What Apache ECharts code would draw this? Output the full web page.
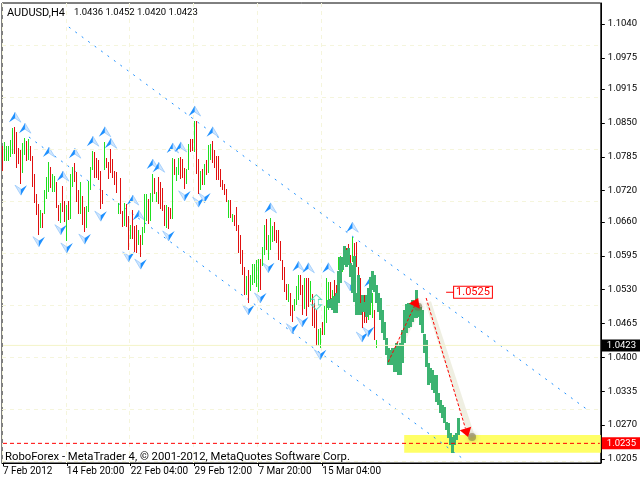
<!DOCTYPE html>
<html><head><meta charset="utf-8">
<style>html,body{margin:0;padding:0;background:#fff}#c{width:640px;height:480px}</style>
<script src="https://cdn.jsdelivr.net/npm/echarts@6/dist/echarts.min.js"></script>
</head><body><div id="c"></div>
<script>
const FONT = 'Roboto,sans-serif';
const titleName = 'AUDUSD,H4';
const titleOHLC = '1.0436 1.0452 1.0420 1.0423';
const footerText = 'RoboForex - MetaTrader 4, © 2001-2012, MetaQuotes Software Corp.';
const tickIndex = [0,32,64,96,128,160];
const tickLabels = ['7 Feb 2012','14 Feb 20:00','22 Feb 04:00','29 Feb 12:00','7 Mar 20:00','15 Mar 04:00'];
const barCount = 300;
const priceTicks = [1.1040,1.0975,1.0915,1.0850,1.0785,1.0720,1.0660,1.0595,1.0530,1.0465,1.0400,1.0335,1.0270,1.0205];
const priceMin = 1.01973, priceMax = 1.10802;
const lastPrice = 1.0423, targetPrice = 1.0235, peakPrice = 1.0525;

const highs = [1.0806,1.0813,1.0806,1.0806,1.0817,1.0840,1.0842,1.0832,1.0801,1.0799,1.0811,1.0821,1.0815,1.0819,1.0806,1.0786,1.0752,1.0713,1.0694,1.0683,1.0677,1.0721,1.0746,1.0775,1.0765,1.0752,1.0748,1.0736,1.0692,1.0696,1.0729,1.0700,1.0692,1.0700,1.0752,1.0765,1.0773,1.0756,1.0721,1.0736,1.0710,1.0688,1.0690,1.0738,1.0765,1.0796,1.0794,1.0782,1.0779,1.0757,1.0721,1.0813,1.0782,1.0775,1.0800,1.0781,1.0757,1.0756,1.0696,1.0744,1.0681,1.0696,1.0694,1.0671,1.0654,1.0683,1.0652,1.0654,1.0644,1.0635,1.0650,1.0713,1.0713,1.0704,1.0715,1.0752,1.0744,1.0717,1.0746,1.0736,1.0725,1.0692,1.0692,1.0688,1.0686,1.0782,1.0781,1.0765,1.0782,1.0784,1.0781,1.0763,1.0761,1.0809,1.0819,1.0819,1.0853,1.0853,1.0781,1.0757,1.0761,1.0771,1.0779,1.0807,
1.0810,1.0815,1.0798,1.0787,1.0787,1.0762,1.0740,1.0733,1.0724,1.0702,1.0702,1.0675,1.0673,1.0689,1.0654,1.0635,1.0606,1.0573,1.0556,1.0568,1.0558,1.0580,1.0580,1.0587,1.0589,1.0588,1.0612,1.0654,1.0665,1.0635,1.0667,1.0652,1.0660,1.0644,1.0644,1.0623,1.0587,1.0574,1.0541,1.0541,1.0523,1.0500,1.0513,1.0537,1.0558,1.0558,1.0539,1.0553,1.0553,1.0553,1.0547,1.0521,1.0504,1.0491,1.0454,1.0456,1.0467,1.0499,1.0552,1.0545,1.0545,1.0529,1.0549,1.0539,1.0593,1.0595,1.0587,1.0606,1.0610,1.0618,1.0597,1.0631,1.0620,1.0622,1.0574,1.0552,1.0510,1.0520,1.0510,1.0520,1.0520,1.0524,1.0491,1.0433];
const lows = [1.0758,1.0777,1.0777,1.0777,1.0785,1.0791,1.0791,1.0763,1.0771,1.0734,1.0754,1.0788,1.0777,1.0779,1.0777,1.0727,1.0696,1.0673,1.0635,1.0648,1.0648,1.0675,1.0704,1.0717,1.0725,1.0717,1.0717,1.0686,1.0661,1.0658,1.0679,1.0660,1.0623,1.0663,1.0665,1.0727,1.0736,1.0698,1.0675,1.0675,1.0654,1.0640,1.0648,1.0679,1.0721,1.0759,1.0744,1.0744,1.0740,1.0685,1.0694,1.0759,1.0763,1.0742,1.0754,1.0745,1.0731,1.0715,1.0675,1.0675,1.0650,1.0652,1.0650,1.0606,1.0627,1.0627,1.0602,1.0600,1.0615,1.0592,1.0615,1.0638,1.0661,1.0656,1.0661,1.0698,1.0713,1.0698,1.0694,1.0685,1.0681,1.0652,1.0648,1.0646,1.0665,1.0665,1.0750,1.0738,1.0750,1.0742,1.0744,1.0723,1.0732,1.0759,1.0794,1.0796,1.0794,1.0752,1.0713,1.0721,1.0731,1.0731,1.0750,1.0753,
1.0779,1.0772,1.0763,1.0740,1.0740,1.0728,1.0721,1.0712,1.0699,1.0667,1.0667,1.0659,1.0651,1.0642,1.0600,1.0580,1.0558,1.0520,1.0520,1.0504,1.0527,1.0539,1.0544,1.0536,1.0526,1.0529,1.0576,1.0596,1.0606,1.0587,1.0606,1.0622,1.0624,1.0619,1.0587,1.0584,1.0548,1.0526,1.0510,1.0507,1.0479,1.0468,1.0490,1.0500,1.0510,1.0520,1.0481,1.0494,1.0481,1.0497,1.0507,1.0459,1.0456,1.0422,1.0422,1.0417,1.0443,1.0443,1.0466,1.0491,1.0497,1.0501,1.0516,1.0510,1.0568,1.0558,1.0564,1.0577,1.0583,1.0577,1.0568,1.0583,1.0577,1.0574,1.0552,1.0504,1.0457,1.0466,1.0466,1.0472,1.0481,1.0476,1.0433,1.0418];
const rising = [0,1,1,1,1,1,0,0,0,0,1,1,0,1,0,0,0,0,0,1,0,1,1,1,0,1,1,0,0,1,0,0,1,0,1,1,0,0,0,1,0,0,1,1,1,1,0,0,0,0,0,1,0,0,0,0,0,0,1,0,0,1,0,0,1,0,0,0,1,0,1,1,1,0,1,1,0,1,0,0,0,0,1,0,0,1,0,1,1,0,0,0,1,1,0,0,1,0,0,1,0,1,0,1,
1,0,0,0,0,0,0,0,0,1,0,1,0,0,0,0,0,0,1,0,1,1,1,1,1,0,1,1,0,1,1,1,0,0,0,0,0,0,0,1,0,0,1,1,1,0,0,1,0,0,1,0,0,0,1,1,0,1,1,1,0,1,0,0,1,1,1,1,0,0,0,1,0,0,0,0,0,0,0,1,1,1,0,1,0,0];

const forecastStart = 163;
const forecastHighs = [1.0510,1.0512,1.0514,1.0518,1.0524,1.0566,1.0593,1.0593,1.0614,1.0606,1.0610,1.0581,1.0577,1.0595,1.0524,1.0558,1.0504,1.0520,1.0506,1.0520,1.0533,1.0554,1.0566,1.0558,1.0539,1.0524,1.0514,1.0491,1.0468,1.0437,1.0418,1.0414,1.0418,1.0418,1.0428,1.0424,1.0428,1.0453,1.0491,1.0503,1.0504,1.0504,1.0510,1.0506,1.0529,1.0501,1.0497,1.0491,1.0445,1.0433,1.0389,1.0380,1.0376,1.0366,1.0366,1.0332,1.0318,1.0309,1.0305,1.0276,1.0274,1.0255,1.0247,1.0251,1.0255,1.0284];
const forecastLows = [1.0495,1.0495,1.0491,1.0485,1.0485,1.0504,1.0543,1.0568,1.0577,1.0574,1.0577,1.0554,1.0524,1.0506,1.0481,1.0481,1.0481,1.0487,1.0487,1.0478,1.0481,1.0504,1.0529,1.0526,1.0504,1.0487,1.0472,1.0447,1.0433,1.0405,1.0385,1.0385,1.0385,1.0372,1.0372,1.0366,1.0366,1.0389,1.0428,1.0447,1.0456,1.0458,1.0468,1.0476,1.0476,1.0478,1.0462,1.0447,1.0409,1.0382,1.0347,1.0351,1.0338,1.0332,1.0315,1.0309,1.0293,1.0284,1.0274,1.0261,1.0245,1.0232,1.0217,1.0232,1.0242,1.0251];

const fractalUp = [[6,1.0861],[11,1.0840],[23,1.0794],[36,1.0792],[30,1.0748],[45,1.0815],[51,1.0833],[54,1.0811],[65,1.0702],[68,1.0673],[75,1.0771],[78,1.0765],[85,1.0802],[89,1.0804],[96,1.0873],[105,1.0833],[134,1.0687],[148,1.0575],[153,1.0572],[163,1.0572],[175,1.0650],[184,1.0545]];
const fractalDown = [[9,1.0721],[18,1.0622],[29,1.0645],[32,1.0610],[41,1.0627],[49,1.0671],[63,1.0593],[69,1.0579],[83,1.0633],[91,1.0710],[98,1.0698],[101,1.0706],[123,1.0491],[129,1.0514],[133,1.0572],[145,1.0455],[150,1.0468],[159,1.0405],[174,1.0537],[180,1.0439],[183,1.0449]];
const channelUpper = [[33,1.1034],[293,1.0299]];
const channelLower = [[13,1.0823],[232,1.0201]];
const arrows = [[193,1.0391,208,1.0514],[212,1.0514,233,1.0247]];
const arrowUpShadow = [[196,1.0405],[209,1.0501]];
const arrowDownShadow = [[213,1.0506],[235,1.0247]];
const shadowTips = [[208,1.0497],[235,1.0247]];
const zone = [[201,299,1.0251,1.0217]];
const peakLeader = [[222,peakPrice],[226,peakPrice]];
const markerPoint = [[157,1.0506]];
const fullRange = [0,barCount-1];

const categories = Array.from({length:barCount},(_,i)=>String(i));
tickIndex.forEach((k,i)=>{categories[k]=tickLabels[i];});
const thinData = highs.map((h,i)=>[i,h,lows[i],rising[i]]);
const thickData = forecastHighs.map((h,i)=>[forecastStart+i,h,forecastLows[i]]);

function barRender(width,colorOf){
  return function(params,api){
    const x=api.value(0);
    const a=api.coord([x,api.value(1)]), b=api.coord([x,api.value(2)]);
    return {type:'rect',shape:{x:Math.round(a[0]-width/2),y:Math.round(a[1]),width:width,height:Math.max(1,Math.round(b[1]-a[1]))},
      style:{fill:colorOf(api)}};
  };
}
function fractalRender(dir){
  return function(params,api){
    const c=api.coord([api.value(0),api.value(1)]);
    const P=(x,y)=>[c[0]+x*dir,c[1]+y*dir];
    return {type:'group',children:[
      {type:'polygon',shape:{points:[P(0,-5),P(6,5),P(0,1)]},style:{fill:'#cfe6ff',stroke:'#8fc4fb',lineWidth:0.7}},
      {type:'polygon',shape:{points:[P(0,-5),P(-6,5),P(0,1)]},style:{fill:'#1e90ff'}}
    ]};
  };
}
function zoneRender(params,api){
  const a=api.coord([api.value(0),api.value(2)]), b=api.coord([api.value(1),api.value(3)]);
  return {type:'rect',shape:{x:a[0],y:a[1],width:b[0]-a[0]+1,height:b[1]-a[1]},style:{fill:'#ffff66'}};
}
function arrowRender(params,api){
  const a=api.coord([api.value(0),api.value(1)]), b=api.coord([api.value(2),api.value(3)]);
  const dx=b[0]-a[0], dy=b[1]-a[1], L=Math.sqrt(dx*dx+dy*dy), ux=dx/L, uy=dy/L, H=9, W=6;
  const bx=b[0]-ux*H, by=b[1]-uy*H;
  return {type:'group',children:[
    {type:'line',shape:{x1:a[0],y1:a[1],x2:bx,y2:by},style:{stroke:'#ff0000',lineWidth:1,lineDash:[3,2]}},
    {type:'polygon',shape:{points:[b,[bx-uy*W,by+ux*W],[bx+uy*W,by-ux*W]]},style:{fill:'#ff0000'}}
  ]};
}
const plainLine=(name,data,color,width,type,z)=>({name,type:'line',data,symbol:'none',silent:true,z,
  lineStyle:{color,width,type},itemStyle:{color}});
const levelLine=(name,price,color,type,bg)=>({name,type:'line',data:fullRange.map(k=>[k,price]),symbol:'none',silent:true,z:8,
  lineStyle:{color,width:1,type},
  endLabel:{show:true,distance:2,formatter:price.toFixed(4),color:'#fff',backgroundColor:bg,fontFamily:FONT,fontSize:9.5,padding:[1,5,1,5],lineHeight:10}});

const chart=echarts.init(document.getElementById('c'),null,{renderer:'canvas'});
chart.setOption({
  animation:false,
  backgroundColor:'#fff',
  textStyle:{fontFamily:FONT},
  title:[
    {text:'{a|'+titleName+'}  {b|'+titleOHLC+'}',left:7,top:4,padding:0,
      textStyle:{fontWeight:'normal',rich:{a:{fontFamily:FONT,fontSize:11,fontWeight:'normal',color:'#000'},b:{fontFamily:FONT,fontSize:9.5,fontWeight:'normal',color:'#000'}}}},
    {text:footerText,left:5,top:450,padding:0,z:20,textStyle:{fontFamily:FONT,fontSize:11.3,fontWeight:'normal',color:'#000',lineHeight:14}}
  ],
  grid:{left:2,right:38,top:3,bottom:17,show:true,borderColor:'#000',borderWidth:1,backgroundColor:'#fff'},
  xAxis:{type:'category',data:categories,boundaryGap:true,
    axisLine:{lineStyle:{color:'#000'}},
    axisTick:{show:true,alignWithLabel:true,length:3,lineStyle:{color:'#000'},customValues:tickIndex},
    axisLabel:{show:true,customValues:tickIndex,align:'left',margin:3,fontFamily:FONT,fontSize:10,color:'#000'},
    splitLine:{show:true,interval:(i)=>i%16===1,lineStyle:{color:'#f5f5dc',type:[4,4],width:1}}},
  yAxis:{type:'value',position:'right',min:priceMin,max:priceMax,scale:true,
    axisLine:{show:true,lineStyle:{color:'#000'}},
    axisTick:{show:true,length:4,lineStyle:{color:'#000'},customValues:priceTicks},
    axisLabel:{show:true,margin:7,fontFamily:FONT,fontSize:9.5,color:'#000',customValues:priceTicks,formatter:v=>v.toFixed(4)},
    splitLine:{show:false}},
  series:[
    {name:'grid',type:'line',data:[],symbol:'none',silent:true,z:1,
      markLine:{silent:true,symbol:'none',label:{show:false},lineStyle:{color:'#f5f5dc',type:[4,4],width:1},
        data:priceTicks.map(v=>({yAxis:v}))}},
    {name:'zone',type:'custom',renderItem:zoneRender,data:zone,encode:{x:[0,1],y:[2,3]},z:1,silent:true},
    levelLine('last',lastPrice,'#f5f5c8','solid','#000'),
    levelLine('target',targetPrice,'#ff0000',[4,3],'#ff0000'),
    plainLine('channel upper',channelUpper,'#1e90ff',1,[2,6],2),
    plainLine('channel lower',channelLower,'#1e90ff',1,[2,6],2),
    plainLine('shadow up',arrowUpShadow,'rgba(232,232,214,0.55)',6,'solid',3),
    plainLine('shadow down',arrowDownShadow,'rgba(232,232,214,0.7)',6,'solid',3),
    {name:'fractal up',type:'custom',renderItem:fractalRender(1),data:fractalUp,encode:{x:0,y:1},z:4,silent:true},
    {name:'fractal down',type:'custom',renderItem:fractalRender(-1),data:fractalDown,encode:{x:0,y:1},z:4,silent:true},
    {name:'bars',type:'custom',renderItem:barRender(1,api=>api.value(3)?'#1fdf1f':'#e01010'),data:thinData,encode:{x:0,y:[1,2]},z:5,silent:true},
    {name:'forecast',type:'custom',renderItem:barRender(3,()=>'#3cb371'),data:thickData,encode:{x:0,y:[1,2]},z:6,silent:true},
    {name:'marker',type:'scatter',data:markerPoint,z:7,silent:true,symbol:'path://M5 0 L10 5 L7 5 L7 11 L10 11 L5 16 L0 11 L3 11 L3 5 L0 5 Z',symbolSize:[10,15],
      itemStyle:{color:'rgba(255,255,255,0)',borderColor:'#40d4b0',borderWidth:1}},
    {name:'tips',type:'scatter',data:shadowTips,z:9,silent:true,symbolSize:8,
      itemStyle:{color:'rgba(120,110,70,0.65)',shadowBlur:5,shadowColor:'rgba(120,110,70,0.6)'}},
    {name:'arrows',type:'custom',renderItem:arrowRender,data:arrows,encode:{x:[0,2],y:[1,3]},z:10,silent:true},
    {name:'peak',type:'line',data:peakLeader,symbol:'none',silent:true,z:10,
      lineStyle:{color:'#ff0000',width:1},
      endLabel:{show:true,distance:0,formatter:peakPrice.toFixed(4),color:'#ff0000',fontFamily:FONT,fontSize:11,
        backgroundColor:'#fff',borderColor:'#ff0000',borderWidth:1,padding:[1,2,0,2],lineHeight:10}}
  ]
});
</script></body></html>
